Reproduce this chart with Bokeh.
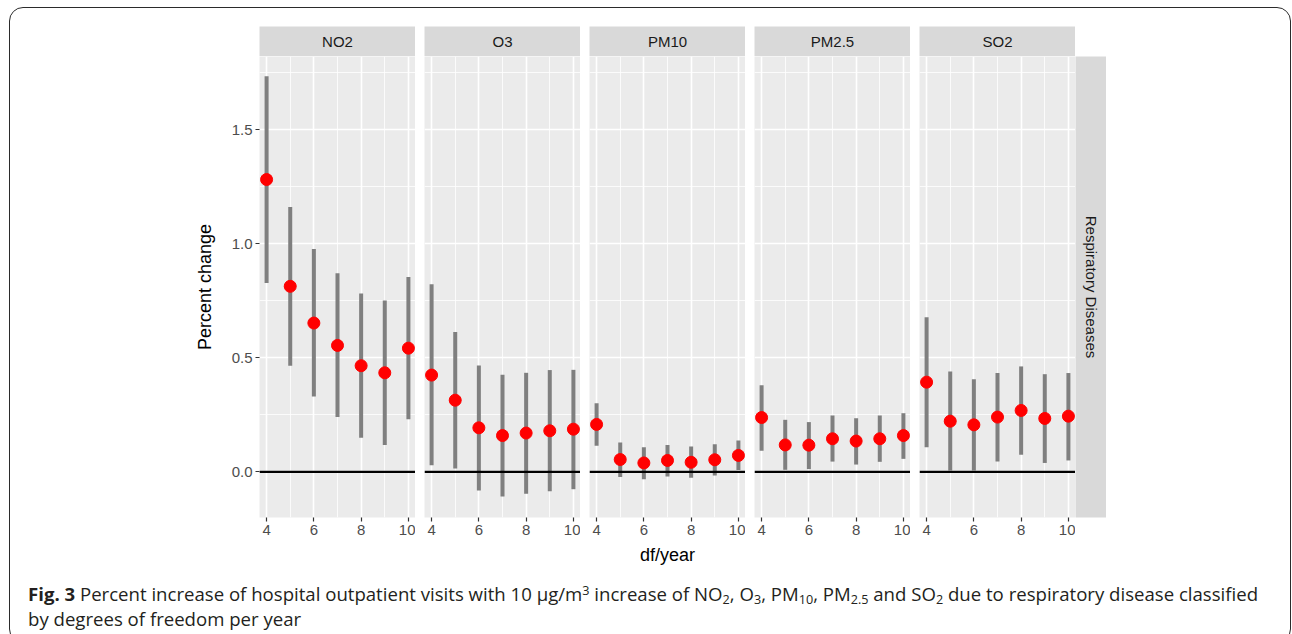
import math
from bokeh.plotting import figure
from bokeh.layouts import row, column
from bokeh.models import (Range1d, FixedTicker, Span, Label, Div,
                          NumeralTickFormatter, InlineStyleSheet)
from bokeh.embed import file_html
from bokeh.resources import INLINE

# ---------------- data ----------------
df_year = [4, 5, 6, 7, 8, 9, 10]
pollutants = ["NO2", "O3", "PM10", "PM2.5", "SO2"]
outcome = "Respiratory Diseases"

est_no2 = [1.281, 0.813, 0.652, 0.554, 0.465, 0.434, 0.542]
lo_no2 = [0.827, 0.465, 0.330, 0.240, 0.149, 0.118, 0.231]
hi_no2 = [1.734, 1.161, 0.976, 0.870, 0.781, 0.751, 0.854]

est_o3 = [0.424, 0.314, 0.193, 0.159, 0.170, 0.180, 0.187]
lo_o3 = [0.029, 0.015, -0.082, -0.108, -0.096, -0.085, -0.076]
hi_o3 = [0.822, 0.613, 0.466, 0.425, 0.434, 0.446, 0.447]

est_pm10 = [0.208, 0.054, 0.039, 0.050, 0.042, 0.053, 0.072]
lo_pm10 = [0.114, -0.023, -0.032, -0.020, -0.026, -0.016, 0.008]
hi_pm10 = [0.301, 0.129, 0.108, 0.118, 0.111, 0.121, 0.137]

est_pm25 = [0.238, 0.118, 0.117, 0.145, 0.135, 0.145, 0.159]
lo_pm25 = [0.092, 0.009, 0.012, 0.045, 0.032, 0.044, 0.057]
hi_pm25 = [0.380, 0.228, 0.218, 0.247, 0.235, 0.247, 0.257]

est_so2 = [0.393, 0.222, 0.206, 0.240, 0.269, 0.234, 0.244]
lo_so2 = [0.108, 0.006, 0.006, 0.045, 0.075, 0.039, 0.050]
hi_so2 = [0.677, 0.440, 0.406, 0.433, 0.462, 0.428, 0.433]

x_ticks = [4, 6, 8, 10]
x_minor = [5, 7, 9]
y_ticks = [0.0, 0.5, 1.0, 1.5]
y_minor = [0.25, 0.75, 1.25, 1.75]

series = {
    "NO2": (est_no2, lo_no2, hi_no2),
    "O3": (est_o3, lo_o3, hi_o3),
    "PM10": (est_pm10, lo_pm10, hi_pm10),
    "PM2.5": (est_pm25, lo_pm25, hi_pm25),
    "SO2": (est_so2, lo_so2, hi_so2),
}

# ---------------- style / layout ----------------
FONT = "Liberation Sans"
PANEL_BG = "#ebebeb"
STRIP_BG = "#d9d9d9"
TOTAL_W = 1292
TOTAL_H = 634
LEFT = 259      # space left of first panel
PW = 156        # panel width
GAP = 9
TOP_PAD = 26
STRIP_H = 30
PANEL_H = 461
XAX_H = 26
XLAB_H = 32
CAP_H = TOTAL_H - (TOP_PAD + STRIP_H) - (PANEL_H + XAX_H) - XLAB_H


def base_fig(width, height, **kw):
    p = figure(width=width, height=height, output_backend="svg",
               toolbar_location=None, **kw)
    p.outline_line_color = None
    p.border_fill_color = "white"
    return p


def make_strip(name, first):
    w = LEFT + PW if first else GAP + PW
    s = base_fig(w, TOP_PAD + STRIP_H, x_range=Range1d(0, 1), y_range=Range1d(0, 1),
                 x_axis_location=None, y_axis_location=None,
                 min_border_left=LEFT if first else GAP, min_border_right=0,
                 min_border_top=TOP_PAD, min_border_bottom=0)
    s.background_fill_color = STRIP_BG
    s.grid.visible = False
    s.add_layout(Label(x=0.5, y=0.5, text=name, text_align="center",
                       text_baseline="middle", text_font=FONT,
                       text_font_size="15px", text_color="#1a1a1a"))
    return s


def make_panel(name, first):
    est, lo, hi = series[name]
    w = LEFT + PW if first else GAP + PW
    p = base_fig(w, PANEL_H + XAX_H,
                 x_range=Range1d(3.7, 10.3), y_range=Range1d(-0.2, 1.82),
                 y_axis_location="left" if first else None,
                 min_border_left=LEFT if first else GAP, min_border_right=0,
                 min_border_top=0, min_border_bottom=XAX_H)
    p.background_fill_color = PANEL_BG

    xt = FixedTicker(ticks=x_ticks, minor_ticks=x_minor)
    yt = FixedTicker(ticks=y_ticks, minor_ticks=y_minor)
    p.xaxis.ticker = xt
    p.xgrid.ticker = xt
    p.ygrid.ticker = yt
    for g in (p.xgrid, p.ygrid):
        g.grid_line_color = "white"
        g.grid_line_width = 1.6
        g.minor_grid_line_color = "white"
        g.minor_grid_line_width = 0.8

    axes = [p.xaxis[0]]
    if first:
        p.yaxis.ticker = yt
        p.yaxis.formatter = NumeralTickFormatter(format="0.0")
        p.yaxis.axis_label = "Percent change"
        p.yaxis.axis_label_text_font = FONT
        p.yaxis.axis_label_text_font_size = "18px"
        p.yaxis.axis_label_text_font_style = "normal"
        p.yaxis.axis_label_text_color = "black"
        p.yaxis.axis_label_standoff = 14
        axes.append(p.yaxis[0])
    for ax in axes:
        ax.axis_line_color = None
        ax.major_tick_line_color = "#333333"
        ax.major_tick_line_width = 1.2
        ax.major_tick_out = 4
        ax.major_tick_in = 0
        ax.minor_tick_line_color = None
        ax.major_label_text_font = FONT
        ax.major_label_text_font_size = "15px"
        ax.major_label_text_color = "#4d4d4d"
        ax.major_label_standoff = 3

    p.segment(x0=df_year, y0=lo, x1=df_year, y1=hi,
              line_color="#7f7f7f", line_width=4)
    p.scatter(x=df_year, y=est, size=12, fill_color="red", line_color="red")
    p.add_layout(Span(location=0, dimension="width", line_color="black",
                      line_width=2.2))
    return p


strips = [make_strip(n, i == 0) for i, n in enumerate(pollutants)]
panels = [make_panel(n, i == 0) for i, n in enumerate(pollutants)]

# right facet strip
rs = base_fig(31, PANEL_H + XAX_H, x_range=Range1d(0, 1), y_range=Range1d(0, 1),
              x_axis_location=None, y_axis_location=None,
              min_border_left=0, min_border_right=0, min_border_top=0,
              min_border_bottom=XAX_H)
rs.background_fill_color = STRIP_BG
rs.grid.visible = False
rs.add_layout(Label(x=0.5, y=0.5, text=outcome, angle=-math.pi / 2,
                    text_align="center", text_baseline="middle",
                    text_font=FONT, text_font_size="15px", text_color="#1a1a1a"))

# x axis title
xl = base_fig(TOTAL_W, XLAB_H, x_range=Range1d(0, TOTAL_W), y_range=Range1d(0, XLAB_H),
              x_axis_location=None, y_axis_location=None,
              min_border_left=0, min_border_right=0, min_border_top=0, min_border_bottom=0)
xl.background_fill_color = "white"
xl.grid.visible = False
xl.add_layout(Label(x=LEFT + (5 * PW + 4 * GAP) / 2, y=21, text="df/year",
                    text_align="center", text_baseline="alphabetic",
                    text_font=FONT, text_font_size="18px", text_color="black"))

SUB = '<sub style="font-size:68%;line-height:0;vertical-align:-0.25em">'
SUP = '<sup style="font-size:68%;line-height:0;vertical-align:0.5em">'
caption_html = (
    '<div style="padding:0.5px 0 0 23px; font-family:\'Open Sans\'; '
    'font-size:18.6px; line-height:25px; color:#231f20; white-space:nowrap;">'
    '<b>Fig. 3</b> Percent increase of hospital outpatient visits with 10 &mu;g/m'
    + SUP + '3</sup> increase of NO' + SUB + '2</sub>, O' + SUB + '3</sub>, PM'
    + SUB + '10</sub>, PM' + SUB + '2.5</sub> and SO' + SUB
    + '2</sub> due to respiratory disease classified'
    '<br>by degrees of freedom per year</div>'
)
cap = Div(text=caption_html, width=TOTAL_W, height=CAP_H)

frame_css = InlineStyleSheet(css="""
:host { position: relative; overflow: hidden; }
:host::after {
  content: "";
  position: absolute;
  left: 9px; top: 7px; width: 1282px; height: 636px;
  box-sizing: border-box;
  border: 1.6px solid #2b2b2b;
  border-radius: 14px;
  pointer-events: none;
  z-index: 1000;
}
""")

layout = column(
    row(*strips),
    row(*panels, rs),
    xl,
    cap,
    width=TOTAL_W, height=TOTAL_H,
    stylesheets=[frame_css],
)

open("out.html", "w").write(file_html(layout, INLINE))
